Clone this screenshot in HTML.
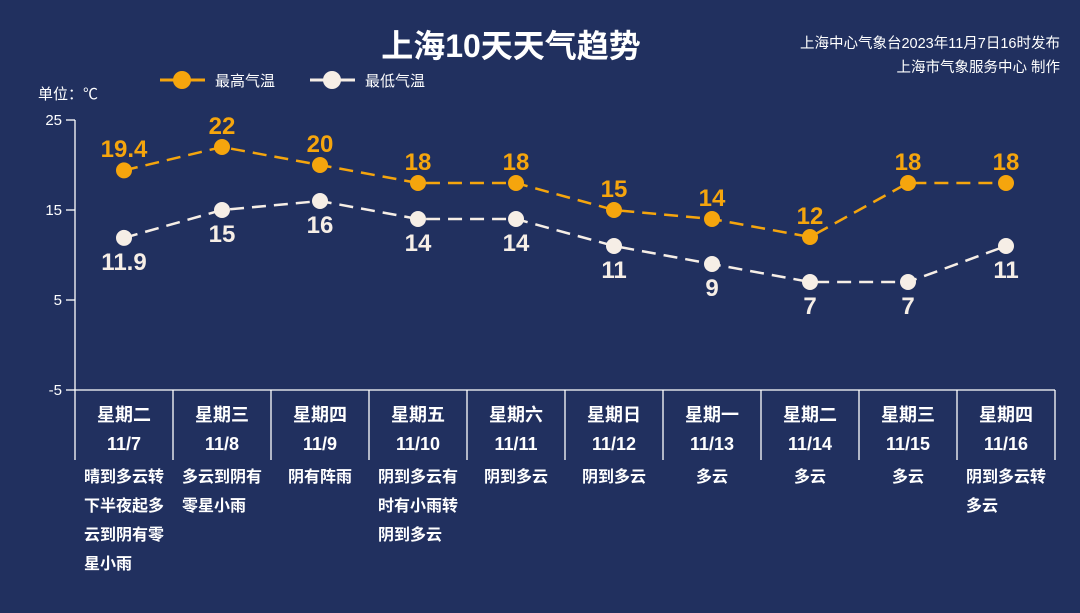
<!DOCTYPE html>
<html><head><meta charset="utf-8"><style>
body{margin:0;width:1080px;height:613px;background:#21305f;overflow:hidden;font-family:"Liberation Sans","Noto Sans CJK SC",sans-serif;color:#fff;position:relative}
.a{position:absolute}
.col{position:absolute;width:98px;text-align:center;font-weight:bold}
.desc{position:absolute;width:98px;text-align:center;top:463px;font-size:16px;font-weight:bold;line-height:29px}
.desc span{display:inline-block;text-align:left;white-space:nowrap}
</style></head><body>
<div class="a" style="left:0;width:1022px;top:21px;text-align:center;font-size:32px;font-weight:bold">上海10天天气趋势</div>
<div class="a" style="right:20px;top:32px;text-align:right;font-size:14.5px;line-height:24px">上海中心气象台2023年11月7日16时发布<br>上海市气象服务中心 制作</div>
<div class="a" style="left:38px;top:83px;font-size:15px">单位：℃</div>
<svg class="a" style="left:0;top:0" width="1080" height="613">
<g font-family="Liberation Sans,Noto Sans CJK SC,sans-serif" font-size="15">
<line x1="160" y1="80" x2="205" y2="80" stroke="#f5a50d" stroke-width="3"/><circle cx="182" cy="80" r="9" fill="#f5a50d"/>
<text x="215" y="86" fill="#fff">最高气温</text>
<line x1="310" y1="80" x2="355" y2="80" stroke="#f6eee6" stroke-width="3"/><circle cx="332" cy="80" r="9" fill="#f6eee6"/>
<text x="365" y="86" fill="#fff">最低气温</text>
<g fill="#fff" text-anchor="end" font-size="15">
<text x="62" y="125">25</text><text x="62" y="215">15</text><text x="62" y="305">5</text><text x="62" y="395">-5</text></g>
</g>
<g stroke="#fff" stroke-width="1.3">
<line x1="75" y1="120" x2="75" y2="460"/>
<line x1="66" y1="120" x2="75" y2="120"/><line x1="66" y1="210" x2="75" y2="210"/><line x1="66" y1="300" x2="75" y2="300"/><line x1="66" y1="390" x2="75" y2="390"/>
<line x1="75" y1="390" x2="1055" y2="390"/>
<line x1="173" y1="390" x2="173" y2="460"/><line x1="271" y1="390" x2="271" y2="460"/><line x1="369" y1="390" x2="369" y2="460"/><line x1="467" y1="390" x2="467" y2="460"/><line x1="565" y1="390" x2="565" y2="460"/><line x1="663" y1="390" x2="663" y2="460"/><line x1="761" y1="390" x2="761" y2="460"/><line x1="859" y1="390" x2="859" y2="460"/><line x1="957" y1="390" x2="957" y2="460"/><line x1="1055" y1="390" x2="1055" y2="460"/>
</g>
<polyline fill="none" stroke="#f5a50d" stroke-width="2.5" stroke-dasharray="14,8" points="124,170.4 222,147 320,165 418,183 516,183 614,210 712,219 810,237 908,183 1006,183"/>
<polyline fill="none" stroke="#f6eee6" stroke-width="2.5" stroke-dasharray="14,8" points="124,237.9 222,210 320,201 418,219 516,219 614,246 712,264 810,282 908,282 1006,246"/>
<g fill="#f5a50d"><circle cx="124" cy="170.4" r="8"/><circle cx="222" cy="147" r="8"/><circle cx="320" cy="165" r="8"/><circle cx="418" cy="183" r="8"/><circle cx="516" cy="183" r="8"/><circle cx="614" cy="210" r="8"/><circle cx="712" cy="219" r="8"/><circle cx="810" cy="237" r="8"/><circle cx="908" cy="183" r="8"/><circle cx="1006" cy="183" r="8"/></g>
<g fill="#f6eee6"><circle cx="124" cy="237.9" r="8"/><circle cx="222" cy="210" r="8"/><circle cx="320" cy="201" r="8"/><circle cx="418" cy="219" r="8"/><circle cx="516" cy="219" r="8"/><circle cx="614" cy="246" r="8"/><circle cx="712" cy="264" r="8"/><circle cx="810" cy="282" r="8"/><circle cx="908" cy="282" r="8"/><circle cx="1006" cy="246" r="8"/></g>
<g font-family="Liberation Sans,sans-serif" font-size="24" font-weight="bold" text-anchor="middle">
<g fill="#f5a50d"><text x="124" y="157">19.4</text><text x="222" y="134">22</text><text x="320" y="152">20</text><text x="418" y="170">18</text><text x="516" y="170">18</text><text x="614" y="197">15</text><text x="712" y="206">14</text><text x="810" y="224">12</text><text x="908" y="170">18</text><text x="1006" y="170">18</text></g>
<g fill="#f6eee6"><text x="124" y="270">11.9</text><text x="222" y="242">15</text><text x="320" y="233">16</text><text x="418" y="251">14</text><text x="516" y="251">14</text><text x="614" y="278">11</text><text x="712" y="296">9</text><text x="810" y="314">7</text><text x="908" y="314">7</text><text x="1006" y="278">11</text></g>
</g>
</svg>
<div class="col" style="left:75px;top:401px;font-size:18px;line-height:29px">星期二<br>11/7</div>
<div class="col" style="left:173px;top:401px;font-size:18px;line-height:29px">星期三<br>11/8</div>
<div class="col" style="left:271px;top:401px;font-size:18px;line-height:29px">星期四<br>11/9</div>
<div class="col" style="left:369px;top:401px;font-size:18px;line-height:29px">星期五<br>11/10</div>
<div class="col" style="left:467px;top:401px;font-size:18px;line-height:29px">星期六<br>11/11</div>
<div class="col" style="left:565px;top:401px;font-size:18px;line-height:29px">星期日<br>11/12</div>
<div class="col" style="left:663px;top:401px;font-size:18px;line-height:29px">星期一<br>11/13</div>
<div class="col" style="left:761px;top:401px;font-size:18px;line-height:29px">星期二<br>11/14</div>
<div class="col" style="left:859px;top:401px;font-size:18px;line-height:29px">星期三<br>11/15</div>
<div class="col" style="left:957px;top:401px;font-size:18px;line-height:29px">星期四<br>11/16</div>
<div class="desc" style="left:75px"><span>晴到多云转<br>下半夜起多<br>云到阴有零<br>星小雨</span></div>
<div class="desc" style="left:173px"><span>多云到阴有<br>零星小雨</span></div>
<div class="desc" style="left:271px"><span>阴有阵雨</span></div>
<div class="desc" style="left:369px"><span>阴到多云有<br>时有小雨转<br>阴到多云</span></div>
<div class="desc" style="left:467px"><span>阴到多云</span></div>
<div class="desc" style="left:565px"><span>阴到多云</span></div>
<div class="desc" style="left:663px"><span>多云</span></div>
<div class="desc" style="left:761px"><span>多云</span></div>
<div class="desc" style="left:859px"><span>多云</span></div>
<div class="desc" style="left:957px"><span>阴到多云转<br>多云</span></div>
</body></html>
